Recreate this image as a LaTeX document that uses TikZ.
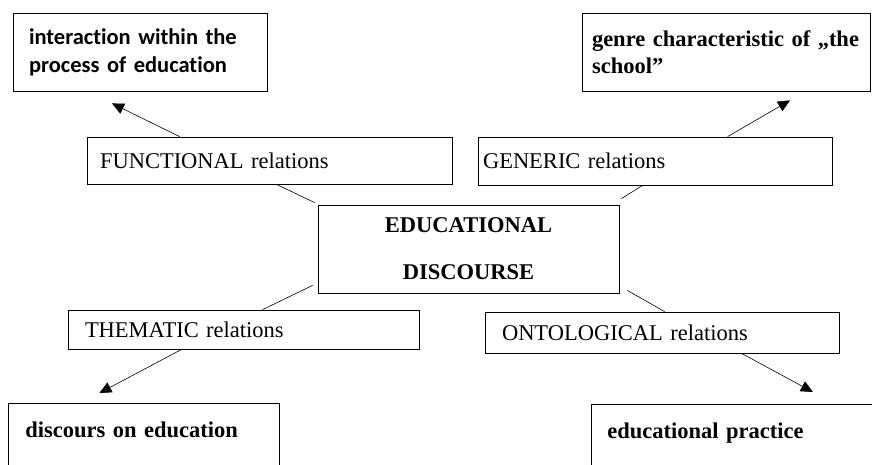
\documentclass[tikz,border=0pt]{standalone}
\usepackage{fontspec}
\setmainfont{Liberation Serif}
\newfontfamily\carlito[Ligatures=NoCommon]{Carlito}
\usetikzlibrary{arrows.meta}

\begin{document}
\begin{tikzpicture}[x=1pt,y=-1pt]

      \clip (0,0) rectangle (872,464);

      \begin{scope}[every node/.style={rectangle,draw,line width=0.8pt,inner ysep=0pt,align=left,
          font=\fontsize{22.5}{27}\selectfont}]
        \node[text width=222, inner xsep=16, minimum height=78, font=\fontsize{22.5}{28}\selectfont\carlito\bfseries] (inter) at (140,52) {interaction within the\\process of education};
        \node[text width=268, inner xsep=10, minimum height=78, font=\fontsize{22.5}{27}\selectfont\bfseries] (genre) at (726,52) {genre characteristic of „the\\school”};
        \node[text width=339, inner xsep=13, minimum height=47] (func) at (269.5,160.5) {FUNCTIONAL relations};
        \node[text width=344, inner xsep=5, minimum height=48] (gen) at (655,161) {GENERIC relations};
        \node[text width=301, inner xsep=0, minimum height=88, align=center, font=\fontsize{22.5}{47}\selectfont\bfseries] (edu) at (468.5,249) {EDUCATIONAL\\DISCOURSE};
        \node[text width=317, inner xsep=17, minimum height=39] (them) at (243.5,329.5) {THEMATIC relations};
        \node[text width=320, inner xsep=17, minimum height=41] (onto) at (662,332.5) {ONTOLOGICAL relations};
        \node[anchor=north west, text width=237, inner xsep=17, minimum height=80, font=\fontsize{22.5}{27}\selectfont\bfseries] (disc) at (8,403) {discours on education\\\mbox{}};
        \node[anchor=north west, text width=249, inner xsep=16, minimum height=80, font=\fontsize{22.5}{27}\selectfont\bfseries] (prac) at (591,404) {educational practice\\\mbox{}};
      \end{scope}

      \begin{scope}[every edge/.style={draw,line width=0.6pt}]
        % relations to the discourse
        \path ([xshift=190]func.south west) edge ([xshift=-3,yshift=2]edu.north west);
        \path ([xshift=165]gen.south west)  edge ([xshift=2,yshift=6]edu.north east);
        \path ([xshift=195]them.north west) edge ([xshift=-5,yshift=8]edu.south west);
        \path ([xshift=180]onto.north west) edge ([xshift=8,yshift=3]edu.south east);
        % relations to their fields
        \path ([xshift=93]func.north west)  edge[-{Triangle[length=12pt,width=11pt]}] ([xshift=-28,yshift=-12]inter.south);
        \path ([xshift=250]gen.north west)  edge[-{Triangle[length=12pt,width=11pt]}] ([xshift=64,yshift=-9]genre.south);
        \path ([xshift=114]them.south west) edge[-{Triangle[length=12pt,width=11pt]}] ([xshift=-44.5,yshift=10]disc.north);
        \path ([xshift=257]onto.south west) edge[-{Triangle[length=12pt,width=11pt]}] ([xshift=81,yshift=12]prac.north);
      \end{scope}

    \end{tikzpicture}
\end{document}
